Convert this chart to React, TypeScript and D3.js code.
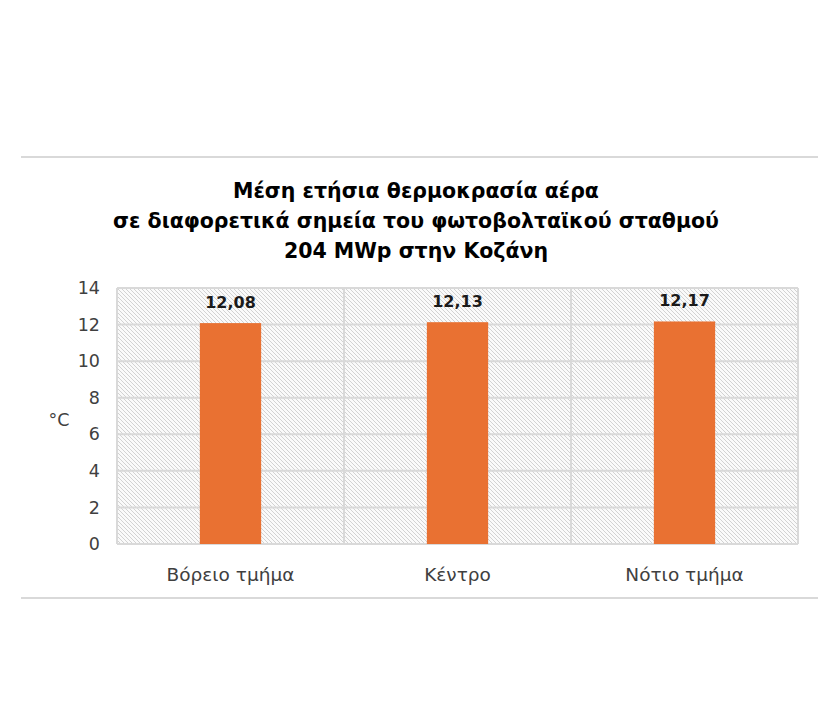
import React, { useEffect, useRef } from 'react';
import * as d3 from 'd3';

const categories = ['Βόρειο τμήμα', 'Κέντρο', 'Νότιο τμήμα'];
const values = [12.08, 12.13, 12.17];
const yTicks = [0, 2, 4, 6, 8, 10, 12, 14];
const titleLines = [
    'Μέση ετήσια θερμοκρασία αέρα',
    'σε διαφορετικά σημεία του φωτοβολταϊκού σταθμού',
    '204 MWp στην Κοζάνη',
];

const W = 825;
const H = 712;

const App: React.FC = () => {
    const svgRef = useRef<SVGSVGElement | null>(null);

    useEffect(() => {
        const svg = d3.select(svgRef.current);
        svg.selectAll('*').remove();
        const font = '"DejaVu Sans", "Noto Sans", sans-serif';
        const margin = { top: 288, right: 27, bottom: 168, left: 117 };
        const innerW = W - margin.left - margin.right;
        const innerH = H - margin.top - margin.bottom;

        svg.attr('width', W).attr('height', H)
            .style('display', 'block')
            .style('position', 'absolute')
            .style('left', '0px')
            .style('top', '0px');

        svg.append('rect').attr('width', W).attr('height', H).attr('fill', '#fff');

        // hatch pattern for plot background
        const pattern = svg
            .append('defs')
            .append('pattern')
            .attr('id', 'hatch')
            .attr('patternUnits', 'userSpaceOnUse')
            .attr('width', 4)
            .attr('height', 4);
        pattern.append('rect').attr('width', 4).attr('height', 4).attr('fill', '#fafafa');
        pattern
            .append('path')
            .attr('d', 'M-1,-1 L5,5 M-1,3 L1,5 M3,-1 L5,1')
            .attr('stroke', '#c8c8c8')
            .attr('stroke-width', 0.8);

        // outer separator lines
        svg.append('line').attr('x1', 21).attr('x2', 818).attr('y1', 157).attr('y2', 157)
            .attr('stroke', '#d9d9d9').attr('stroke-width', 2);
        svg.append('line').attr('x1', 21).attr('x2', 818).attr('y1', 598).attr('y2', 598)
            .attr('stroke', '#d9d9d9').attr('stroke-width', 2);

        // title
        svg.append('text')
            .attr('x', 416)
            .attr('y', 198)
            .attr('text-anchor', 'middle')
            .attr('font-family', font)
            .attr('font-weight', 'bold')
            .attr('font-size', 20.5)
            .attr('fill', '#000')
            .selectAll('tspan')
            .data(titleLines)
            .join('tspan')
            .attr('x', 416)
            .attr('dy', (_, i) => (i === 0 ? 0 : 30))
            .text((d) => d);

        const x = d3.scaleBand().domain(categories).range([0, innerW]).paddingInner(0.73).paddingOuter(0.365);
        const band = d3.scaleBand().domain(categories).range([0, innerW]);
        const y = d3.scaleLinear().domain([0, 14]).range([innerH, 0]);

        const g = svg.append('g').attr('transform', `translate(${margin.left},${margin.top})`);

        g.append('rect').attr('width', innerW).attr('height', innerH).attr('fill', 'url(#hatch)');

        // horizontal gridlines
        g.selectAll('.hgrid')
            .data(yTicks)
            .join('line')
            .attr('x1', 0)
            .attr('x2', innerW)
            .attr('y1', (d) => y(d))
            .attr('y2', (d) => y(d))
            .attr('stroke', '#d9d9d9')
            .attr('stroke-width', 2);

        // vertical category separators
        const vlines = categories.map((c) => band(c)!).concat([innerW]);
        g.selectAll('.vgrid')
            .data(vlines)
            .join('line')
            .attr('x1', (d) => d)
            .attr('x2', (d) => d)
            .attr('y1', 0)
            .attr('y2', innerH)
            .attr('stroke', '#d9d9d9')
            .attr('stroke-width', 2);

        // bars
        g.selectAll('.bar')
            .data(values)
            .join('rect')
            .attr('x', (_, i) => x(categories[i])!)
            .attr('width', x.bandwidth())
            .attr('y', (d) => y(d))
            .attr('height', (d) => innerH - y(d))
            .attr('fill', '#e97132');

        // data labels
        g.selectAll('.lbl')
            .data(values)
            .join('text')
            .attr('x', (_, i) => x(categories[i])! + x.bandwidth() / 2)
            .attr('y', (d) => y(d) - 15)
            .attr('text-anchor', 'middle')
            .attr('font-family', font)
            .attr('font-weight', 'bold')
            .attr('font-size', 16)
            .attr('fill', '#1a1a1a')
            .text((d) => d.toFixed(2).replace('.', ','));

        // y axis
        const yAxis = g.append('g').call(d3.axisLeft(y).tickValues(yTicks).tickSize(0).tickPadding(17));
        yAxis.select('.domain').remove();
        yAxis.selectAll('text')
            .attr('font-family', font)
            .attr('font-size', 17.5)
            .attr('fill', '#404040');

        // x axis
        const xAxis = g.append('g')
            .attr('transform', `translate(0,${innerH})`)
            .call(d3.axisBottom(band).tickSize(0).tickPadding(24));
        xAxis.select('.domain').remove();
        xAxis.selectAll('text')
            .attr('font-family', font)
            .attr('font-size', 18.5)
            .attr('fill', '#404040');

        // y axis unit
        svg.append('text')
            .attr('x', 59)
            .attr('y', 426)
            .attr('text-anchor', 'middle')
            .attr('font-family', font)
            .attr('font-size', 17.5)
            .attr('fill', '#404040')
            .text('°C');
    }, []);

    return <svg ref={svgRef}></svg>;
};

export default App;
